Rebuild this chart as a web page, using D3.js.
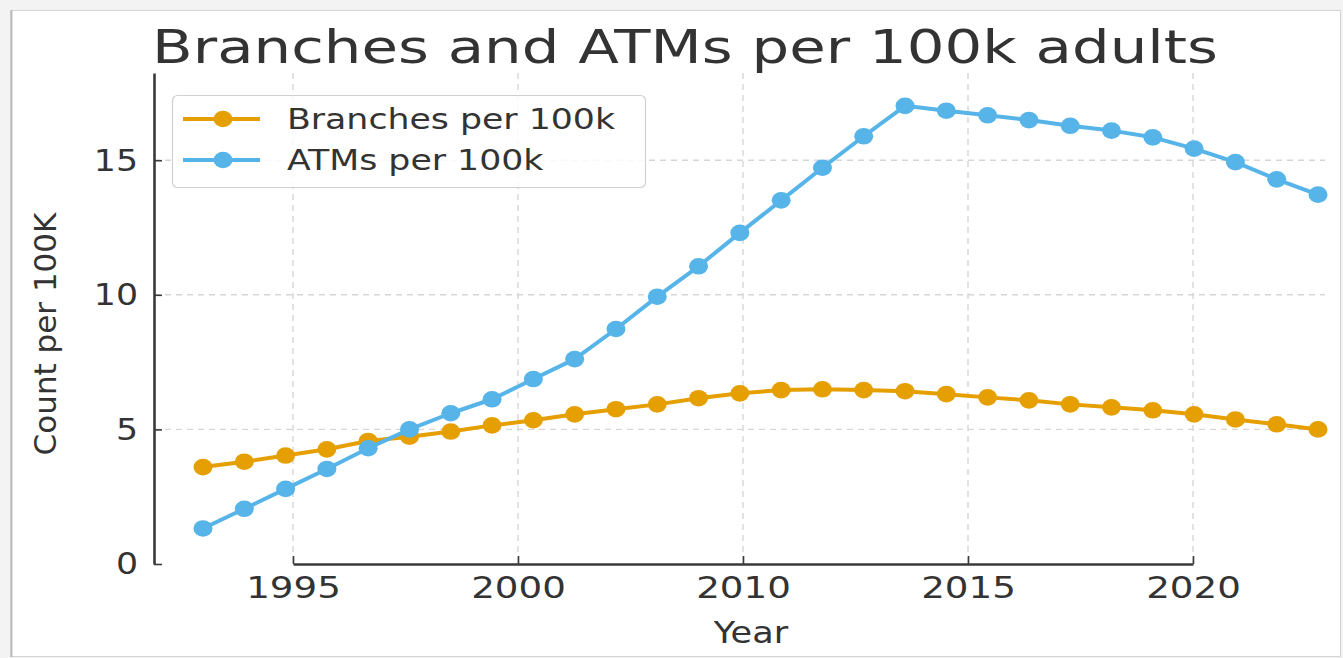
<!DOCTYPE html>
<html>
<head>
<meta charset="utf-8">
<script src="https://cdn.jsdelivr.net/npm/d3@7"></script>
<style>
  html, body { margin: 0; padding: 0; background: #f3f3f3; }
  svg { display: block; }
  text { font-family: "DejaVu Sans", sans-serif; fill: #333; }
</style>
</head>
<body>
<svg id="chart" width="1343" height="658"></svg>
<script>
// Observation years and series values
const years = [1993, 1994, 1995, 1996, 1997, 1998, 1999, 2000, 2001, 2002,
               2003, 2004, 2005, 2006, 2007, 2008, 2009, 2010, 2011, 2012,
               2013, 2014, 2015, 2016, 2017, 2018, 2019, 2020];
const branches = [3.60, 3.80, 4.03, 4.26, 4.57, 4.73, 4.92, 5.15, 5.34, 5.56,
                  5.75, 5.93, 6.16, 6.34, 6.46, 6.49, 6.46, 6.42, 6.31, 6.19,
                  6.08, 5.93, 5.82, 5.71, 5.56, 5.37, 5.19, 5.00];
const atms = [1.32, 2.05, 2.79, 3.53, 4.30, 5.00, 5.60, 6.12, 6.87, 7.61,
              8.73, 9.93, 11.06, 12.30, 13.51, 14.72, 15.89, 17.02, 16.84, 16.67,
              16.49, 16.28, 16.10, 15.85, 15.43, 14.93, 14.29, 13.72];
const xTickLabels = ["1995", "2000", "2010", "2015", "2020"];
const yTicks = [0, 5, 10, 15];
const seriesNames = ["Branches per 100k", "ATMs per 100k"];
const seriesColors = ["#E69F00", "#56B4E9"];

const svg = d3.select("#chart");

// page frame
svg.append("rect").attr("x", 10.5).attr("y", 10.5).attr("width", 1330).attr("height", 646)
  .attr("fill", "#fff").attr("stroke", "#d4d4d4").attr("stroke-width", 1);
svg.append("line").attr("x1", 11.5).attr("x2", 11.5).attr("y1", 10).attr("y2", 657)
  .attr("stroke", "#bdbdbd").attr("stroke-width", 2);

const margin = { left: 154, top: 73, right: 18, bottom: 94 };
const W = 1343 - margin.left - margin.right;
const H = 658 - margin.top - margin.bottom;

const g = svg.append("g").attr("transform", `translate(${margin.left},${margin.top})`);

// stretch text horizontally by a factor
function widen(sel, k) {
  sel.each(function () {
    const len = this.getComputedTextLength();
    d3.select(this).attr("textLength", len * k).attr("lengthAdjust", "spacingAndGlyphs");
  });
}

const x = d3.scalePoint().domain(years).range([49, W - 7]);
const xAxisScale = d3.scalePoint().domain(xTickLabels).range([139, W - 132]);
const y = d3.scaleLinear().domain([0, 18.24]).range([H, 0]);

// grid
g.append("g").selectAll("line").data(yTicks.filter(d => d > 0)).join("line")
  .attr("x1", 0).attr("x2", W).attr("y1", d => y(d)).attr("y2", d => y(d))
  .attr("stroke", "#d6d6d6").attr("stroke-width", 1.4).attr("stroke-dasharray", "6,5");
g.append("g").selectAll("line").data(xTickLabels).join("line")
  .attr("x1", d => xAxisScale(d)).attr("x2", d => xAxisScale(d)).attr("y1", 0).attr("y2", H)
  .attr("stroke", "#d6d6d6").attr("stroke-width", 1.4).attr("stroke-dasharray", "6,5");

// axes
const xAxis = g.append("g").attr("transform", `translate(0,${H})`)
  .call(d3.axisBottom(xAxisScale).tickSizeInner(-8).tickSizeOuter(0).tickPadding(12));
const yAxis = g.append("g")
  .call(d3.axisLeft(y).tickValues(yTicks).tickSizeInner(-8).tickSizeOuter(0).tickPadding(16));
[xAxis, yAxis].forEach(a => {
  a.select(".domain").attr("stroke", "#3a3a3a").attr("stroke-width", 2.6);
  a.selectAll(".tick line").attr("stroke", "#3a3a3a").attr("stroke-width", 1.6);
  a.selectAll("text").attr("font-size", 31).attr("fill", "#3a3a3a")
    .attr("font-family", "DejaVu Sans, sans-serif");
});
xAxis.selectAll("text").attr("dy", "0.71em");
widen(xAxis.selectAll("text"), 1.2);
widen(yAxis.selectAll("text"), 1.12);

// lines and markers
const series = [branches, atms];
const line = d3.line().x((d, i) => x(years[i])).y(d => y(d));
series.forEach((vals, si) => {
  g.append("path").datum(vals).attr("d", line).attr("fill", "none")
    .attr("stroke", seriesColors[si]).attr("stroke-width", 4).attr("stroke-linejoin", "round");
  g.append("g").selectAll("ellipse").data(vals).join("ellipse")
    .attr("cx", (d, i) => x(years[i])).attr("cy", d => y(d))
    .attr("rx", 9.5).attr("ry", 8.3).attr("fill", seriesColors[si]);
});

// axis titles
svg.append("text").attr("transform", "translate(56,334) rotate(-90)")
  .attr("text-anchor", "middle").attr("font-size", 31).attr("fill", "#333").text("Count per 100K");
const xl = svg.append("text").attr("x", 751).attr("y", 643).attr("text-anchor", "middle")
  .attr("font-size", 30).attr("fill", "#333").text("Year");
widen(xl, 1.17);

// title
svg.append("text").attr("x", 152).attr("y", 63).attr("font-size", 47)
  .attr("fill", "#2e2e2e").text("Branches and ATMs per 100k adults")
  .attr("textLength", 1066).attr("lengthAdjust", "spacingAndGlyphs");

// legend
const lg = svg.append("g").attr("transform", "translate(172,95)");
lg.append("rect").attr("x", 0.5).attr("y", 0.5).attr("width", 473).attr("height", 92).attr("rx", 5)
  .attr("fill", "#fff").attr("fill-opacity", 0.85).attr("stroke", "#d0d0d0").attr("stroke-width", 1.2);
seriesNames.forEach((name, i) => {
  const cy = 24 + i * 41;
  lg.append("line").attr("x1", 11).attr("x2", 88).attr("y1", cy).attr("y2", cy)
    .attr("stroke", seriesColors[i]).attr("stroke-width", 4);
  lg.append("ellipse").attr("cx", 51).attr("cy", cy).attr("rx", 9.5).attr("ry", 8.3)
    .attr("fill", seriesColors[i]);
  const t = lg.append("text").attr("x", 115).attr("y", cy + 10).attr("font-size", 28)
    .attr("fill", "#333").text(name);
  widen(t, 1.24);
});
</script>
</body>
</html>
